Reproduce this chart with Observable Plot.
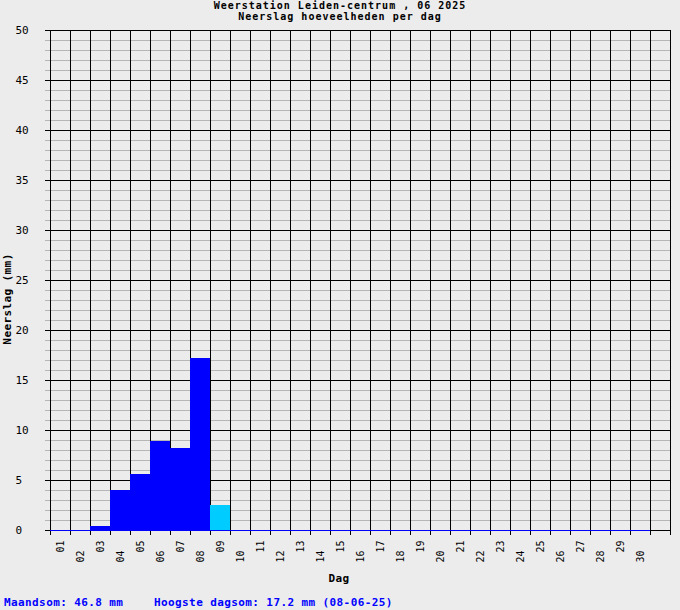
<!DOCTYPE html>
<html>
<head>
<meta charset="utf-8">
<script src="https://cdn.jsdelivr.net/npm/d3@7"></script>
<script src="https://cdn.jsdelivr.net/npm/@observablehq/plot@0.6"></script>
<style>
  html, body { margin: 0; padding: 0; background: #ececec; }
  #chart svg { display: block; }
</style>
</head>
<body>
<div id="chart"></div>
<script>
// ---- data ----
const days = d3.range(1, 31);                         // 01 .. 30 (June 2025)
const dayLabels = days.map(d => String(d).padStart(2, "0"));
const rainDays = [1, 2, 3, 4, 5, 6, 7, 8, 9];
const rainValues = [0, 0, 0.4, 4.0, 5.6, 8.9, 8.2, 17.2, 2.5]; // mm per day
const todayDay = 9;
const yMajorTicks = d3.range(0, 51, 5);
const yMinorTicks = d3.range(0, 51).filter(d => d % 5 !== 0);
const dayBounds = d3.range(0.5, 32, 1);               // slot boundaries (31 slots)
const titleLines = ["Weerstation Leiden-centrum , 06 2025", "Neerslag hoeveelheden per dag"];
const xTitle = "Dag";
const yTitle = "Neerslag (mm)";
const footerLeft = "Maandsom: 46.8 mm";
const footerRight = "Hoogste dagsom: 17.2 mm (08-06-25)";

const rain = rainDays.map((d, i) => ({day: d, mm: rainValues[i], today: d === todayDay}));
const dayRows = days.map((d, i) => ({day: d, label: dayLabels[i]}));

const mono = "'DejaVu Sans Mono', 'Liberation Mono', monospace";

const chart = Plot.plot({
  width: 680,
  height: 610,
  marginLeft: 50,
  marginRight: 10,
  marginTop: 30,
  marginBottom: 80,
  style: {background: "#ececec", fontFamily: mono, fontSize: "10px", color: "black"},
  x: {domain: [0.5, 31.5], axis: null},
  y: {domain: [0, 50], axis: null},
  marks: [
    // minor horizontal grid + ticks
    Plot.gridY(yMinorTicks, {stroke: "#b6b6b6", strokeOpacity: 1}),
    Plot.axisY(yMinorTicks, {tickSize: 5, stroke: "#b6b6b6", tickFormat: () => "", label: null}),
    // major horizontal grid + ticks + labels
    Plot.gridY(yMajorTicks, {stroke: "black", strokeOpacity: 1}),
    Plot.axisY(yMajorTicks, {tickSize: 5, stroke: "black", tickPadding: 30, textAnchor: "start",
      fontSize: 11, fontFamily: mono, label: null}),
    // vertical grid at day boundaries + ticks below
    Plot.gridX(dayBounds, {stroke: "black", strokeOpacity: 1}),
    Plot.axisX(dayBounds, {tickSize: 5, stroke: "black", tickFormat: () => "", label: null}),
    // zero line for each day
    Plot.ruleY(dayRows, {x1: d => d.day - 0.5, x2: d => d.day + 0.5, y: () => 0, stroke: "#0000ff"}),
    // bars
    Plot.rectY(rain.filter(d => d.mm > 0), {
      x1: d => d.day - 0.5, x2: d => d.day + 0.5, y1: 0, y2: "mm",
      fill: d => d.today ? "#00ccff" : "#0000ff", inset: 0
    }),
    // day labels (staggered)
    Plot.text(dayRows.filter(d => d.day % 2 === 1), {
      x: "day", text: "label", frameAnchor: "bottom", dy: 10, dx: 3, rotate: -90,
      textAnchor: "end", fontSize: 10, fill: "black"
    }),
    Plot.text(dayRows.filter(d => d.day % 2 === 0), {
      x: "day", text: "label", frameAnchor: "bottom", dy: 20, dx: 3, rotate: -90,
      textAnchor: "end", fontSize: 10, fill: "black"
    })
  ]
});

document.getElementById("chart").appendChild(chart);

// titles, axis names and footer as real text
const svg = d3.select(chart);
const boldText = (x, y, str, fill = "black", anchor = "middle", size = 11, spacing = "0.4px") =>
  svg.append("text")
    .attr("x", x).attr("y", y)
    .attr("text-anchor", anchor)
    .attr("font-family", mono)
    .attr("font-size", size)
    .attr("font-weight", "bold")
    .attr("letter-spacing", spacing)
    .attr("fill", fill)
    .style("white-space", "pre")
    .text(str);

boldText(340, 9, titleLines[0], "black", "middle", 10, "1px");
boldText(340, 20, titleLines[1], "black", "middle", 10, "1px");
boldText(339, 582, xTitle);
boldText(0, 0, yTitle).attr("transform", "translate(11,299) rotate(-90)");
boldText(4, 606, footerLeft, "#0000ff", "start");
boldText(154, 606, footerRight, "#0000ff", "start");
</script>
</body>
</html>
